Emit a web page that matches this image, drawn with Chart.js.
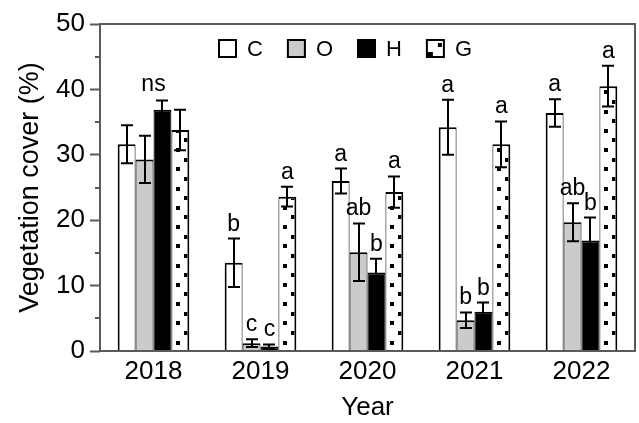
<!DOCTYPE html>
<html><head><meta charset="utf-8">
<script src="https://cdn.jsdelivr.net/npm/chart.js@4.4.1/dist/chart.umd.min.js"></script>
<style>html,body{margin:0;padding:0;background:#fff;} #wrap{width:639px;height:423px;}</style>
</head><body><div id="wrap"><canvas id="c" width="639" height="423"></canvas></div>
<script>
const years = ['2018', '2019', '2020', '2021', '2022'];
const seriesNames = ['C', 'O', 'H', 'G'];
const valuesC = [31.6, 13.5, 26.0, 34.2, 36.4];
const errorsC = [2.9, 3.7, 1.9, 4.2, 2.1];
const valuesO = [29.3, 1.2, 15.1, 4.7, 19.7];
const errorsO = [3.6, 0.6, 4.4, 1.2, 2.9];
const valuesH = [36.9, 0.7, 12.0, 6.0, 16.9];
const errorsH = [1.4, 0.3, 2.1, 1.4, 3.5];
const valuesG = [33.8, 23.6, 24.3, 31.6, 40.5];
const errorsG = [3.1, 1.5, 2.4, 3.5, 3.1];
const lettersC = ['', 'b', 'a', 'a', 'a'];
const lettersO = ['', 'c', 'ab', 'b', 'ab'];
const lettersH = ['', 'c', 'b', 'b', 'b'];
const lettersG = ['', 'a', 'a', 'a', 'a'];
const groupLetters = ['ns', '', '', '', ''];
const yTicks = [0, 10, 20, 30, 40, 50];
const yMinorTicks = [5, 15, 25, 35, 45];

const FONT = "'Liberation Sans', Arial, Helvetica, sans-serif";
const FRAME = '#5a5a5a';

function drawDots(ctx, left, right, top, base) {
  ctx.save();
  ctx.beginPath();
  ctx.rect(left + 1, top + 2, right - left - 3, base - top - 2);
  ctx.clip();
  ctx.fillStyle = '#000';
  const step = 19.25;
  for (let k = 0; ; k++) {
    const yl = base - 8 - k * step;
    const yr = base - 17.6 - k * step;
    if (yr < top - 5 && yl < top - 5) break;
    ctx.fillRect(Math.round(left + 4.5), Math.round(yl - 2), 4, 4);
    ctx.fillRect(Math.round(right - 5), Math.round(yr - 2), 4, 4);
  }
  ctx.restore();
}

const customPlugin = {
  id: 'custom',
  afterDatasetDraw(chart, args) {
    if (args.index !== 3) return;
    const ctx = chart.ctx;
    args.meta.data.forEach(el => {
      const p = el.getProps(['x', 'y', 'base', 'width'], true);
      drawDots(ctx, p.x - p.width / 2, p.x + p.width / 2, p.y, p.base);
    });
  },
  afterDatasetsDraw(chart) {
    const ctx = chart.ctx;
    const y = chart.scales.y;
    const xs = chart.scales.x;
    ctx.save();
    ctx.strokeStyle = '#000';
    ctx.lineWidth = 2;
    const groupTop = years.map(() => Infinity);
    chart.data.datasets.forEach((ds, di) => {
      const meta = chart.getDatasetMeta(di);
      meta.data.forEach((el, i) => {
        const v = ds.data[i], e = ds.errors[i];
        const yt = y.getPixelForValue(v + e);
        const yb = y.getPixelForValue(Math.max(0, v - e));
        const x = Math.round(el.x);
        ctx.beginPath();
        ctx.moveTo(x, yt); ctx.lineTo(x, yb);
        ctx.moveTo(x - 6, yt); ctx.lineTo(x + 6, yt);
        ctx.moveTo(x - 6, yb); ctx.lineTo(x + 6, yb);
        ctx.stroke();
        groupTop[i] = Math.min(groupTop[i], yt);
        const letter = ds.letters[i];
        if (letter) {
          ctx.fillStyle = '#000';
          ctx.font = '23px ' + FONT;
          ctx.textAlign = 'center';
          ctx.textBaseline = 'alphabetic';
          ctx.fillText(letter, el.x, yt - 8);
        }
      });
    });
    groupLetters.forEach((g, i) => {
      if (!g) return;
      ctx.fillStyle = '#000';
      ctx.font = '23px ' + FONT;
      ctx.textAlign = 'center';
      ctx.textBaseline = 'alphabetic';
      ctx.fillText(g, xs.getPixelForValue(i), groupTop[i] - 10);
    });
    ctx.restore();
  },
  afterDraw(chart) {
    const ctx = chart.ctx;
    const a = chart.chartArea;
    const y = chart.scales.y;
    ctx.save();
    ctx.strokeStyle = FRAME;
    ctx.lineWidth = 2;
    ctx.strokeRect(a.left, a.top, a.right - a.left, a.bottom - a.top);
    ctx.beginPath();
    yMinorTicks.forEach(v => {
      const py = Math.round(y.getPixelForValue(v));
      ctx.moveTo(a.left - 5, py); ctx.lineTo(a.left, py);
    });
    ctx.stroke();
    let lx = a.left + 118;
    const ly = a.top + 15;
    const box = 19;
    ctx.font = '22px ' + FONT;
    ctx.textBaseline = 'middle';
    ctx.textAlign = 'left';
    chart.data.datasets.forEach((ds, di) => {
      ctx.fillStyle = ds.backgroundColor;
      ctx.fillRect(lx, ly, box, box);
      if (di === 3) {
        ctx.fillStyle = '#000';
        ctx.fillRect(lx + 12, ly + 4, 4, 4);
        ctx.fillRect(lx + 1, ly + 13, 6, 6);
      }
      ctx.strokeStyle = '#000';
      ctx.lineWidth = 2;
      ctx.strokeRect(lx + 1, ly + 1, box - 2, box - 2);
      ctx.fillStyle = '#000';
      ctx.fillText(ds.label, lx + box + 10, ly + box / 2 + 1);
      lx += box + 10 + ctx.measureText(ds.label).width + 24;
    });
    ctx.restore();
  }
};

const dsCommon = {
  borderColor: '#000',
  categoryPercentage: 0.67,
  barPercentage: 1.0,
  borderSkipped: 'start'
};

new Chart(document.getElementById('c'), {
  type: 'bar',
  data: {
    labels: years,
    datasets: [
      Object.assign({}, dsCommon, { label: seriesNames[0], data: valuesC, errors: errorsC, letters: lettersC,
        backgroundColor: '#ffffff', borderWidth: { top: 2, left: 2, right: 1, bottom: 0 } }),
      Object.assign({}, dsCommon, { label: seriesNames[1], data: valuesO, errors: errorsO, letters: lettersO,
        backgroundColor: '#cbcbcb', borderWidth: { top: 2, left: 1, right: 1, bottom: 0 } }),
      Object.assign({}, dsCommon, { label: seriesNames[2], data: valuesH, errors: errorsH, letters: lettersH,
        backgroundColor: '#000000', borderWidth: { top: 2, left: 1, right: 1, bottom: 0 } }),
      Object.assign({}, dsCommon, { label: seriesNames[3], data: valuesG, errors: errorsG, letters: lettersG,
        backgroundColor: '#ffffff', borderWidth: { top: 2, left: 1, right: 2, bottom: 0 } })
    ]
  },
  options: {
    responsive: false,
    animation: false,
    devicePixelRatio: 1,
    layout: { padding: { left: 0, right: 4, top: 24, bottom: 0 } },
    plugins: { legend: { display: false }, tooltip: { enabled: false } },
    scales: {
      x: {
        grid: { display: false },
        border: { display: false },
        ticks: { color: '#000', font: { family: FONT, size: 26, lineHeight: 1 }, padding: 0, maxRotation: 0 },
        title: { display: true, text: 'Year', color: '#000', font: { family: FONT, size: 26, lineHeight: 1 }, padding: { top: 0, bottom: 2 } },
        afterFit: s => { s.height = 72; }
      },
      y: {
        min: 0, max: 50,
        afterBuildTicks: s => { s.ticks = yTicks.map(v => ({ value: v })); },
        grid: { display: true, drawOnChartArea: false, tickLength: 10, tickColor: FRAME, tickWidth: 2 },
        border: { display: false },
        ticks: { color: '#000', font: { family: FONT, size: 26 }, padding: 5 },
        title: { display: true, text: 'Vegetation cover (%)', color: '#000', font: { family: FONT, size: 27, lineHeight: 1 }, padding: { top: 17, bottom: 0 } },
        afterFit: s => { s.width = 100; }
      }
    }
  },
  plugins: [customPlugin]
});
</script>
</body></html>
